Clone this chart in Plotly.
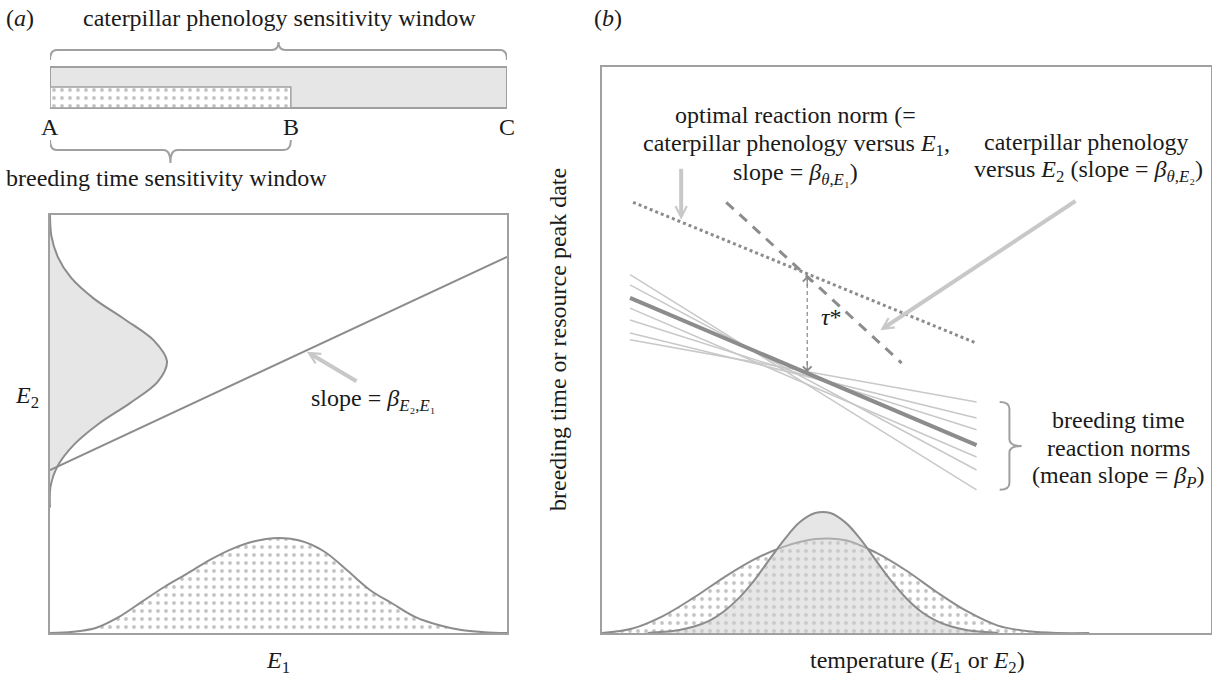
import plotly.graph_objects as go

W, H = 1212, 680

# ---------------- DATA ----------------
# (a) top: sensitivity windows on the time axis
window_labels = ["A", "B", "C"]
window_pos = [0.0, 5.27, 10.0]

# (a) main: E2 distribution (drawn on left margin), E1 distribution (bottom), E2 ~ E1 line
e2_levels = [3.0, 3.5, 4.0, 4.5, 5.0, 5.5, 6.0, 6.5, 7.0, 7.5, 8.0, 8.5, 9.0, 9.5, 10.0]
e2_density = [0.0, 0.01, 0.17, 0.52, 1.06, 1.75, 2.35, 2.56, 2.27, 1.64, 0.96, 0.46, 0.17, 0.03, 0.0]
e1_levels = [0.0, 0.5, 1.0, 1.5, 2.0, 2.5, 3.0, 3.5, 4.0, 4.5, 5.0, 5.5, 6.0, 6.5, 7.0, 7.5, 8.0, 8.5, 9.0, 9.5, 10.0]
e1_density = [0.0, 0.03, 0.12, 0.38, 0.74, 1.10, 1.42, 1.75, 2.02, 2.20, 2.27, 2.20, 1.95, 1.50, 1.03, 0.70, 0.38, 0.19, 0.07, 0.02, 0.0]
regr_e1 = [0.0, 10.0]
regr_e2 = [3.9, 9.0]

# (b): temperature distributions
temp_wide = [0.0, 0.5, 1.0, 1.5, 2.0, 2.5, 3.0, 3.5, 4.0, 4.5, 5.0, 5.5, 6.0, 6.5, 7.0, 7.5, 8.0]
wide_density = [0.0, 0.08, 0.30, 0.62, 0.98, 1.30, 1.53, 1.66, 1.64, 1.42, 1.10, 0.72, 0.38, 0.13, 0.03, 0.0, 0.0]
temp_narrow = [0.75, 1.0, 1.25, 1.5, 1.75, 2.0, 2.25, 2.5, 2.75, 3.0, 3.25, 3.5, 3.75, 4.0,
               4.25, 4.5, 4.75, 5.0, 5.25, 5.5, 5.75, 6.0, 6.25, 6.5]
narrow_density = [0.0, 0.02, 0.05, 0.11, 0.21, 0.38, 0.62, 0.93, 1.30, 1.66, 1.96, 2.12, 2.12, 1.95,
                  1.65, 1.28, 0.92, 0.61, 0.37, 0.21, 0.11, 0.05, 0.02, 0.0]

# (b): lines
optimal_temp = [0.51, 6.15]          # optimal reaction norm (dotted)
optimal_date = [7.61, 5.12]
cat_e2_temp = [2.04, 4.92]           # caterpillar phenology vs E2 (dashed)
cat_e2_date = [7.61, 4.77]
norm_temp = [0.46, 6.15]             # breeding time reaction norms
norm_start = [6.33, 6.15, 5.74, 5.53, 5.30, 5.18]
norm_end = [2.53, 2.88, 3.11, 3.59, 3.80, 4.08]
mean_norm = [5.92, 3.32]
tau_temp = 3.37
tau_top, tau_bottom = 6.31, 4.61

# ---------------- STYLE ----------------
FONT = "'Liberation Serif', 'DejaVu Serif', 'Times New Roman', serif"
TXT = "#1a1a1a"
LINE = "#8c8c8c"
FRAME = "#a0a0a0"
LIGHT = "#c8c8c8"
FS = 24


def P(xp, yp):
    return xp / W, 1 - yp / H


dots = dict(shape=".", bgcolor="white", fgcolor="#8a8a8a", size=8, solidity=0.18)

fig = go.Figure()

# ---- (a) windows bar
A, B, C = window_pos
fig.add_trace(go.Scatter(x=[A, C, C, A, A], y=[9.2, 9.2, 13.3, 13.3, 9.2], fill="toself",
                         fillcolor="#e6e6e6", mode="lines", line=dict(color=FRAME, width=2),
                         xaxis="x3", yaxis="y3", hoverinfo="skip"))
fig.add_trace(go.Scatter(x=[A, B, B, A, A], y=[9.2, 9.2, 11.3, 11.3, 9.2], fill="toself",
                         fillpattern=dots, mode="lines", line=dict(color=FRAME, width=1.5),
                         xaxis="x3", yaxis="y3", hoverinfo="skip"))

# ---- (a) main
fig.add_trace(go.Scatter(x=e2_density, y=e2_levels, fill="tozerox", fillcolor="#e6e6e6",
                         mode="lines", line=dict(color=LINE, width=2, shape="spline", smoothing=0.9),
                         xaxis="x", yaxis="y", hoverinfo="skip"))
fig.add_trace(go.Scatter(x=regr_e1, y=regr_e2, mode="lines", line=dict(color=LINE, width=2),
                         xaxis="x", yaxis="y", hoverinfo="skip"))
fig.add_trace(go.Scatter(x=e1_levels, y=e1_density, fill="tozeroy", fillpattern=dots,
                         mode="lines", line=dict(color=LINE, width=2, shape="spline"),
                         xaxis="x", yaxis="y", hoverinfo="skip"))

# ---- (b) distributions
fig.add_trace(go.Scatter(x=temp_wide, y=wide_density, fill="tozeroy", fillpattern=dots,
                         mode="lines", line=dict(color=LINE, width=2, shape="spline"),
                         xaxis="x2", yaxis="y2", hoverinfo="skip"))
fig.add_trace(go.Scatter(x=temp_narrow, y=narrow_density, fill="tozeroy",
                         fillcolor="rgba(205,205,205,0.5)",
                         mode="lines", line=dict(color=LINE, width=2, shape="spline"),
                         xaxis="x2", yaxis="y2", hoverinfo="skip"))

# ---- (b) reaction norms
for s, e in zip(norm_start, norm_end):
    fig.add_trace(go.Scatter(x=norm_temp, y=[s, e], mode="lines",
                             line=dict(color=LIGHT, width=1.5),
                             xaxis="x2", yaxis="y2", hoverinfo="skip"))
fig.add_trace(go.Scatter(x=norm_temp, y=mean_norm, mode="lines", line=dict(color=LINE, width=4),
                         xaxis="x2", yaxis="y2", hoverinfo="skip"))
fig.add_trace(go.Scatter(x=optimal_temp, y=optimal_date, mode="lines",
                         line=dict(color=LINE, width=3, dash="dot"),
                         xaxis="x2", yaxis="y2", hoverinfo="skip"))
fig.add_trace(go.Scatter(x=cat_e2_temp, y=cat_e2_date, mode="lines",
                         line=dict(color=LINE, width=3, dash="10px,8px"),
                         xaxis="x2", yaxis="y2", hoverinfo="skip"))
fig.add_trace(go.Scatter(x=[tau_temp, tau_temp], y=[tau_bottom, tau_top], mode="lines",
                         line=dict(color="#888888", width=1.2, dash="4px,3px"),
                         xaxis="x2", yaxis="y2", hoverinfo="skip"))

# ---------------- SHAPES (braces) ----------------
def hbrace(x0, x1, y, yend, ytip, r):
    xm = (x0 + x1) / 2
    return (f"M{x0},{yend} Q{x0},{y} {x0 + r},{y} L{xm - r},{y} Q{xm},{y} {xm},{ytip} "
            f"Q{xm},{y} {xm + r},{y} L{x1 - r},{y} Q{x1},{y} {x1},{yend}")


def vbrace(xv, xh, xt, ytop, ybot, r):
    ym = (ytop + ybot) / 2
    return (f"M{xh},{ytop} Q{xv},{ytop} {xv},{ytop - r} L{xv},{ym + r} Q{xv},{ym} {xt},{ym} "
            f"Q{xv},{ym} {xv},{ym - r} L{xv},{ybot + r} Q{xv},{ybot} {xh},{ybot}")


shapes = [
    dict(type="path", xref="x3", yref="y3", path=hbrace(A, C, 15.0, 14.0, 15.8, 0.15),
         line=dict(color=FRAME, width=2)),
    dict(type="path", xref="x3", yref="y3", path=hbrace(A, B, 5.0, 6.0, 3.7, 0.15),
         line=dict(color=FRAME, width=2)),
    dict(type="path", xref="x2", yref="y2",
         path=vbrace(6.69, 6.53, 6.89, max(norm_end), min(norm_end), 0.12),
         line=dict(color=FRAME, width=2)),
    # small overhang of the temperature axis to the left of the frame
    dict(type="line", xref="x2", yref="y2", x0=-0.16, x1=0, y0=0, y1=0,
         line=dict(color=FRAME, width=2)),
]

# ---------------- ANNOTATIONS ----------------
def txt(text, xp, yp, size=FS, xanchor="center", angle=0):
    x, y = P(xp, yp)
    return dict(text=text, x=x, y=y, xref="paper", yref="paper", xanchor=xanchor,
                yanchor="middle", showarrow=False, textangle=angle,
                font=dict(family=FONT, size=size, color=TXT))


ann = [
    txt("(<i>a</i>)", 20, 18),
    txt("caterpillar phenology sensitivity window", 279, 18),
    txt("breeding time sensitivity window", 166, 178),
    txt("<i>E</i><sub>2</sub>", 27, 397),
    txt("<i>E</i><sub>1</sub>", 278, 662),
    txt("slope = <i>β</i><sub><i>E</i>₂,<i>E</i>₁</sub>", 309, 400, xanchor="left"),
    txt("(<i>b</i>)", 608, 18),
    txt("optimal reaction norm (=", 795, 115),
    txt("caterpillar phenology versus <i>E</i><sub>1</sub>,", 796, 145),
    txt("slope = <i>β</i><sub><i>θ</i>,<i>E</i>₁</sub>)", 795, 174),
    txt("caterpillar phenology", 1086, 142),
    txt("versus <i>E</i><sub>2</sub> (slope = <i>β</i><sub><i>θ</i>,<i>E</i>₂</sub>)", 1088, 171),
    txt("<i>τ</i>*", 831, 317),
    txt("breeding time", 1118, 420),
    txt("reaction norms", 1118, 448),
    txt("(mean slope = <i>β</i><sub><i>P</i></sub>)", 1118, 477),
    txt("temperature (<i>E</i><sub>1</sub> or <i>E</i><sub>2</sub>)", 917, 662),
    txt("breeding time or resource peak date", 558, 340, angle=-90),
]
for lab, pos in zip(window_labels, window_pos):
    ann.append(dict(text=lab, x=pos, y=7.3, xref="x3", yref="y3", showarrow=False,
                    xanchor="center", yanchor="middle",
                    font=dict(family=FONT, size=FS, color=TXT)))

# grey pointer arrows
def arrow(x, y, ax, ay, xr, yr):
    return dict(text="", x=x, y=y, ax=ax, ay=ay, xref=xr, yref=yr, axref=xr, ayref=yr,
                showarrow=True, arrowhead=5, arrowsize=0.55, arrowwidth=4, arrowcolor=LIGHT)

ann += [
    arrow(5.62, 6.73, 6.74, 6.0, "x", "y"),
    arrow(1.30, 7.30, 1.30, 8.23, "x2", "y2"),
    arrow(4.57, 5.35, 7.80, 7.65, "x2", "y2"),
]
# tau* double arrow heads
ann += [
    dict(text="", x=tau_temp, y=tau_top, xref="x2", yref="y2", ax=0, ay=12, showarrow=True,
         arrowhead=4, arrowsize=1.4, arrowwidth=1.2, arrowcolor="#888888"),
    dict(text="", x=tau_temp, y=tau_bottom, xref="x2", yref="y2", ax=0, ay=-12, showarrow=True,
         arrowhead=4, arrowsize=1.4, arrowwidth=1.2, arrowcolor="#888888"),
]

ax_common = dict(showline=True, mirror=True, linecolor=FRAME, linewidth=2, showgrid=False,
                 zeroline=False, showticklabels=False, ticks="", fixedrange=True)

xa = [50 / W, 507 / W]
ya = [1 - 633 / H, 1 - 215 / H]
xb = [602 / W, 1211 / W]
yb = [1 - 633 / H, 1 - 67 / H]

fig.update_layout(
    width=W, height=H, margin=dict(l=0, r=0, t=0, b=0),
    paper_bgcolor="white", plot_bgcolor="white", showlegend=False,
    font=dict(family=FONT, size=FS, color=TXT),
    xaxis=dict(domain=xa, range=[0, 10], anchor="y", **ax_common),
    yaxis=dict(domain=ya, range=[0, 10], anchor="x", **ax_common),
    xaxis2=dict(domain=xb, range=[0, 10], anchor="y2", **ax_common),
    yaxis2=dict(domain=yb, range=[0, 10], anchor="x2", **ax_common),
    xaxis3=dict(domain=xa, range=[0, 10], anchor="y3", visible=False, fixedrange=True),
    yaxis3=dict(domain=[1 - 200 / H, 1 - 30 / H], range=[0, 17], anchor="x3", visible=False,
                fixedrange=True),
    shapes=shapes, annotations=ann,
)

fig.write_html("out.html", config={"displayModeBar": False},
               post_script="document.body.style.margin='0px';document.body.style.overflow='hidden';")
